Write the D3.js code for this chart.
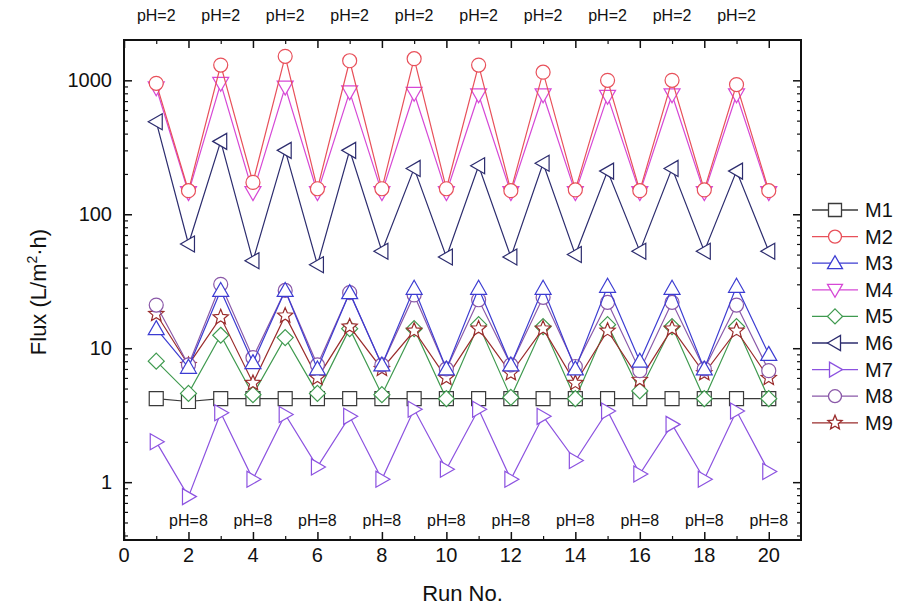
<!DOCTYPE html>
<html>
<head>
<meta charset="utf-8">
<script src="https://cdn.jsdelivr.net/npm/d3@7"></script>
<style>
body { margin: 0; background: #fff; }
svg text { font-family: "Liberation Sans", Arial, sans-serif; fill: #111; }
</style>
</head>
<body>
<svg width="907" height="610"></svg>
<script>
var runs = d3.range(1, 21);
var seriesNames = ["M1", "M2", "M3", "M4", "M5", "M6", "M7", "M8", "M9"];
var M1 = [4.2, 4.0, 4.2, 4.2, 4.2, 4.2, 4.2, 4.2, 4.2, 4.2, 4.2, 4.2, 4.2, 4.2, 4.2, 4.2, 4.2, 4.2, 4.2, 4.2];
var M2 = [950, 150, 1300, 173, 1510, 155, 1400, 155, 1450, 155, 1300, 150, 1150, 152, 1000, 150, 1000, 152, 930, 150];
var M3 = [14, 7.2, 27, 7.8, 27, 7.0, 26, 7.5, 28, 7.0, 28, 7.5, 28, 7.0, 29, 8.0, 28, 7.0, 29, 9.0];
var M4 = [880, 145, 950, 145, 890, 145, 820, 145, 800, 145, 780, 145, 780, 145, 760, 145, 780, 145, 780, 145];
var M5 = [8.0, 4.6, 12.5, 4.5, 12, 4.6, 14, 4.5, 14, 4.2, 15, 4.3, 14.5, 4.2, 15, 4.8, 14.5, 4.2, 14.5, 4.2];
var M6 = [490, 60, 350, 45, 300, 42, 300, 53, 220, 48, 230, 48, 240, 50, 210, 53, 220, 53, 210, 53];
var M7 = [2.0, 0.78, 3.3, 1.05, 3.2, 1.3, 3.1, 1.05, 3.5, 1.25, 3.5, 1.05, 3.1, 1.45, 3.4, 1.15, 2.7, 1.05, 3.4, 1.2];
var M8 = [21, 7.5, 30, 8.5, 27, 7.5, 26, 7.5, 25, 7.0, 23, 7.5, 24, 7.3, 22, 6.8, 22, 7.0, 21, 6.8];
var M9 = [18, 7.5, 17, 5.5, 17.5, 6.0, 14.5, 7.0, 13.5, 6.0, 14, 6.5, 14, 5.5, 13.5, 5.8, 14, 6.5, 13.5, 6.0];
var allValues = [M1, M2, M3, M4, M5, M6, M7, M8, M9];
var colors = ["#3a3a3a", "#e8505a", "#3c3cd2", "#d648d6", "#3f9a4f", "#2c2c6e", "#8c52e0", "#8a58a8", "#9a2c2c"];
var symbols = ["square", "circle", "up", "down", "diamond", "left", "right", "circle", "star"];
var xTicks = [0, 2, 4, 6, 8, 10, 12, 14, 16, 18, 20];
var yTicks = [1, 10, 100, 1000];
var topLabels = [1, 3, 5, 7, 9, 11, 13, 15, 17, 19];
var bottomLabels = [2, 4, 6, 8, 10, 12, 14, 16, 18, 20];

var svg = d3.select("svg");
var pLeft = 124, pRight = 801, pTop = 40, pBottom = 540;

var x = d3.scaleLinear().domain([0, 21]).range([pLeft, pRight]);
var y = d3.scaleLog().domain([0.37, 2000]).range([pBottom, pTop]);

// marker path, centred on 0,0
function marker(type, s) {
    var h = s / 2;
    if (type == "square") return "M" + (-h) + "," + (-h) + "h" + s + "v" + s + "h" + (-s) + "Z";
    if (type == "diamond") return "M0," + (-h - 1) + "L" + (h + 1) + ",0L0," + (h + 1) + "L" + (-h - 1) + ",0Z";
    if (type == "up") return "M0," + (-h - 1) + "L" + (h + 1) + "," + (h - 1) + "L" + (-h - 1) + "," + (h - 1) + "Z";
    if (type == "down") return "M0," + (h + 1) + "L" + (h + 1) + "," + (-h + 1) + "L" + (-h - 1) + "," + (-h + 1) + "Z";
    if (type == "left") return "M" + (-h - 1) + ",0L" + (h - 1) + "," + (-h - 1) + "L" + (h - 1) + "," + (h + 1) + "Z";
    if (type == "right") return "M" + (h + 1) + ",0L" + (-h + 1) + "," + (-h - 1) + "L" + (-h + 1) + "," + (h + 1) + "Z";
    if (type == "star") {
        var pts = [];
        for (var i = 0; i < 10; i++) {
            var r = i % 2 == 0 ? h + 1 : (h + 1) * 0.45;
            var a = -Math.PI / 2 + i * Math.PI / 5;
            pts.push([r * Math.cos(a), r * Math.sin(a)]);
        }
        return "M" + pts.join("L") + "Z";
    }
    return d3.symbol().type(d3.symbolCircle).size(Math.PI * h * h)();
}

// axes (ticks inward)
var minorX = d3.range(1, 21, 2);
function addXAxis(gen, ty, dir) {
    var g = svg.append("g").attr("transform", "translate(0," + ty + ")")
        .call(gen(x).tickValues(xTicks).tickSize(dir * 8).tickFormat(""));
    g.select(".domain").remove();
    g.selectAll("line").attr("stroke", "#111").attr("stroke-width", 1.5);
    var m = svg.append("g").attr("transform", "translate(0," + ty + ")")
        .call(gen(x).tickValues(minorX).tickSize(dir * 4).tickFormat(""));
    m.select(".domain").remove();
    m.selectAll("line").attr("stroke", "#111").attr("stroke-width", 1.2);
}
addXAxis(d3.axisBottom, pBottom, -1);
addXAxis(d3.axisTop, pTop, -1);

var minorY = [];
[0.1, 1, 10, 100, 1000].forEach(function(d) {
    for (var k = 2; k <= 9; k++) {
        var v = d * k;
        if (v > 0.37 && v < 2000) minorY.push(v);
    }
});
function addYAxis(gen, tx, dir) {
    var g = svg.append("g").attr("transform", "translate(" + tx + ",0)")
        .call(gen(y).tickValues(yTicks).tickSize(dir * 8).tickFormat(""));
    g.select(".domain").remove();
    g.selectAll("line").attr("stroke", "#111").attr("stroke-width", 1.5);
    var m = svg.append("g").attr("transform", "translate(" + tx + ",0)")
        .call(gen(y).tickValues(minorY).tickSize(dir * 4).tickFormat(""));
    m.select(".domain").remove();
    m.selectAll("line").attr("stroke", "#111").attr("stroke-width", 1.2);
}
addYAxis(d3.axisLeft, pLeft, -1);
addYAxis(d3.axisRight, pRight, -1);

svg.append("rect")
    .attr("x", pLeft).attr("y", pTop)
    .attr("width", pRight - pLeft).attr("height", pBottom - pTop)
    .attr("fill", "none").attr("stroke", "#111").attr("stroke-width", 2);

// tick labels
svg.selectAll(".xl").data(xTicks).enter().append("text")
    .attr("x", function(d) { return x(d); })
    .attr("y", pBottom + 22)
    .attr("text-anchor", "middle")
    .style("font-size", "20px")
    .text(function(d) { return d; });

svg.selectAll(".yl").data(yTicks).enter().append("text")
    .attr("x", pLeft - 12)
    .attr("y", function(d) { return y(d) + 7; })
    .attr("text-anchor", "end")
    .style("font-size", "20px")
    .text(function(d) { return d; });

// titles
svg.append("text")
    .attr("x", (pLeft + pRight) / 2)
    .attr("y", 601)
    .attr("text-anchor", "middle")
    .style("font-size", "22px")
    .text("Run No.");

var yt = svg.append("text")
    .attr("transform", "translate(46," + ((pTop + pBottom) / 2 + 2) + ") rotate(-90)")
    .attr("text-anchor", "middle")
    .style("font-size", "22px");
yt.append("tspan").text("Flux (L/m");
yt.append("tspan").attr("dy", -9).style("font-size", "14px").text("2");
yt.append("tspan").attr("dy", 9).text("\u00b7h)");

// pH labels
svg.selectAll(".ph2").data(topLabels).enter().append("text")
    .attr("x", function(d) { return x(d); })
    .attr("y", 21)
    .attr("text-anchor", "middle")
    .style("font-size", "16px")
    .text("pH=2");

svg.selectAll(".ph8").data(bottomLabels).enter().append("text")
    .attr("x", function(d) { return x(d); })
    .attr("y", 526)
    .attr("text-anchor", "middle")
    .style("font-size", "16px")
    .text("pH=8");

// series
var line = d3.line()
    .x(function(d, i) { return x(runs[i]); })
    .y(function(d) { return y(d); });

var order = [0, 6, 4, 8, 7, 2, 5, 3, 1];
order.forEach(function(k) {
    var g = svg.append("g").attr("class", "series");
    g.append("path")
        .datum(allValues[k])
        .attr("d", line)
        .attr("fill", "none")
        .attr("stroke", colors[k])
        .attr("stroke-width", 1.2);
    g.selectAll("path.pt")
        .data(allValues[k])
        .enter().append("path")
        .attr("class", "pt")
        .attr("transform", function(d, i) { return "translate(" + x(runs[i]) + "," + y(d) + ")"; })
        .attr("d", marker(symbols[k], 14))
        .attr("fill", "#fff")
        .attr("stroke", colors[k])
        .attr("stroke-width", 1.2);
});

// legend
var leg = svg.selectAll(".leg").data(seriesNames).enter().append("g")
    .attr("transform", function(d, i) { return "translate(812," + (210 + i * 26.6) + ")"; });
leg.append("line")
    .attr("x1", 0).attr("x2", 46)
    .attr("stroke", function(d, i) { return colors[i]; })
    .attr("stroke-width", 1.3);
leg.append("path")
    .attr("transform", "translate(23,0)")
    .attr("d", function(d, i) { return marker(symbols[i], 13); })
    .attr("fill", "#fff")
    .attr("stroke", function(d, i) { return colors[i]; })
    .attr("stroke-width", 1.3);
leg.append("text")
    .attr("x", 53).attr("y", 7)
    .style("font-size", "20px")
    .text(function(d) { return d; });
</script>
</body>
</html>
